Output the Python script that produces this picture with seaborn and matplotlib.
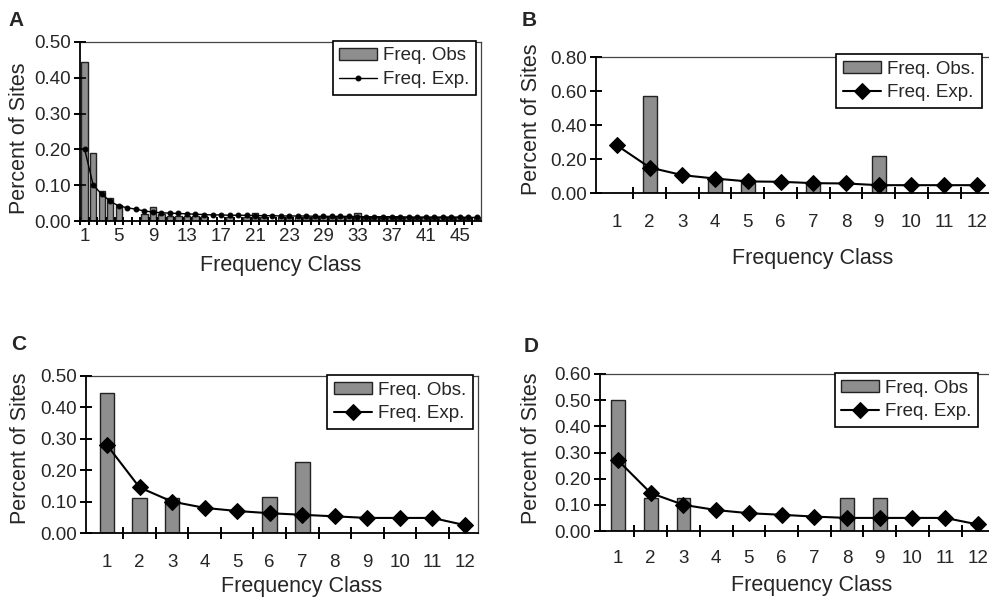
import numpy as np
import pandas as pd
import matplotlib
matplotlib.use("Agg")
import matplotlib.pyplot as plt
import seaborn as sns

# ---------------- data ----------------
classes_a = list(range(1, 48))
obs_a = [0.445, 0.19, 0.085, 0.065, 0.045, 0.0, 0.0, 0.02, 0.04, 0.02,
         0.015, 0.015, 0.015, 0.015, 0.015, 0.0, 0.0, 0.012, 0.0, 0.012,
         0.022, 0.012, 0.0, 0.012, 0.012, 0.012, 0.012, 0.012, 0.012, 0.012,
         0.012, 0.012, 0.022, 0.012, 0.012, 0.012, 0.012, 0.012, 0.012, 0.012,
         0.012, 0.012, 0.012, 0.012, 0.012, 0.012, 0.012]
exp_a = [0.20, 0.10, 0.075, 0.055, 0.042, 0.037, 0.033, 0.028, 0.025, 0.023,
         0.022, 0.021, 0.020, 0.019, 0.018, 0.017, 0.017, 0.016, 0.016, 0.016,
         0.015, 0.015, 0.015, 0.014, 0.014, 0.014, 0.014, 0.013, 0.013, 0.013,
         0.013, 0.013, 0.012, 0.012, 0.012, 0.012, 0.012, 0.012, 0.011, 0.011,
         0.011, 0.011, 0.011, 0.011, 0.011, 0.010, 0.010]
ticklabels_a = ["1", "5", "9", "13", "17", "21", "23", "29", "33", "37", "41", "45"]

classes_12 = list(range(1, 13))
obs_b = [0.0, 0.57, 0.0, 0.08, 0.06, 0.0, 0.06, 0.0, 0.22, 0.0, 0.0, 0.0]
exp_b = [0.28, 0.15, 0.105, 0.085, 0.068, 0.066, 0.058, 0.056, 0.046, 0.046, 0.046, 0.046]

obs_c = [0.445, 0.11, 0.11, 0.0, 0.0, 0.115, 0.225, 0.0, 0.0, 0.0, 0.0, 0.0]
exp_c = [0.28, 0.145, 0.10, 0.08, 0.07, 0.063, 0.058, 0.053, 0.048, 0.048, 0.048, 0.025]

obs_d = [0.50, 0.125, 0.125, 0.0, 0.0, 0.0, 0.0, 0.125, 0.125, 0.0, 0.0, 0.0]
exp_d = [0.27, 0.145, 0.10, 0.08, 0.068, 0.062, 0.055, 0.05, 0.05, 0.05, 0.05, 0.025]

# ---------------- style ----------------
sns.set_style("ticks")
plt.rcParams["font.family"] = ["Liberation Sans", "DejaVu Sans"]
plt.rcParams["axes.edgecolor"] = "black"
plt.rcParams["axes.linewidth"] = 1.0

BAR_FILL = "#8e8e8e"
BAR_EDGE = "#222222"

fig = plt.figure(figsize=(9.89, 5.98), dpi=100)

W, H = 989.0, 598.0


def make_axes(left, right, top, bottom):
    return fig.add_axes([left / W, 1 - bottom / H, (right - left) / W, (bottom - top) / H])


def panel(ax, classes, obs, exp, obs_label, exp_label, ylim, yticks, xlim,
          bar_width, marker, ms, lw, minor_ticks, major_ticks, major_labels,
          leg_anchor, xlabel_xy, ylabel_xy, xpad, show_right, tick_len):
    df = pd.DataFrame({"cls": classes, "obs": obs, "exp": exp})
    sns.barplot(data=df, x="cls", y="obs", native_scale=True, color=BAR_FILL,
                edgecolor=BAR_EDGE, linewidth=1.0, width=bar_width, saturation=1,
                errorbar=None, label=obs_label, ax=ax)
    sns.lineplot(data=df, x="cls", y="exp", color="black", marker=marker,
                 markersize=ms, markeredgecolor="black", linewidth=lw,
                 errorbar=None, label=exp_label, ax=ax)
    ax.set_xlim(*xlim)
    ax.set_ylim(*ylim)
    ax.set_yticks(yticks)
    ax.set_yticklabels([f"{v:.2f}" for v in yticks], fontsize=13.5)
    ax.set_xticks(major_ticks)
    ax.set_xticklabels(major_labels, fontsize=13.5)
    ax.set_xticks(minor_ticks, minor=True)
    ax.tick_params(axis="x", which="major", length=0, pad=xpad, bottom=True)
    ax.tick_params(axis="x", which="minor", direction="inout", length=tick_len,
                   width=1.2, color="black", bottom=True)
    ax.tick_params(axis="y", which="major", direction="inout", length=9, width=1.2,
                   color="black", pad=2, left=True)
    # tick marks on category boundaries and value ticks, drawn on top
    ax.plot(minor_ticks, [0.0] * len(minor_ticks), transform=ax.get_xaxis_transform(),
            linestyle="none", marker="|", markersize=tick_len, markeredgewidth=1.2,
            color="black", clip_on=False, zorder=6)
    ax.plot([0.0] * len(yticks), yticks, transform=ax.get_yaxis_transform(),
            linestyle="none", marker="_", markersize=9, markeredgewidth=1.2,
            color="black", clip_on=False, zorder=6)
    ax.set_xlim(*xlim)
    ax.set_ylim(*ylim)
    ax.set_xlabel("Frequency Class", fontsize=15.5, va="center")
    ax.set_ylabel("Percent of Sites", fontsize=15.5, va="center")
    ax.xaxis.set_label_coords(*xlabel_xy)
    ax.yaxis.set_label_coords(*ylabel_xy)
    ax.spines["right"].set_visible(show_right)
    for s in ["top", "right"]:
        ax.spines[s].set_linewidth(0.9)
        ax.spines[s].set_color("#444444")
    ax.spines["left"].set_linewidth(1.3)
    ax.spines["bottom"].set_linewidth(1.3)
    handles, labels = ax.get_legend_handles_labels()
    order = [labels.index(obs_label), labels.index(exp_label)]
    leg = ax.legend([handles[i] for i in order], [labels[i] for i in order],
                    loc="upper right", bbox_to_anchor=leg_anchor, fontsize=13.5,
                    frameon=True, fancybox=False, edgecolor="black", framealpha=1,
                    borderaxespad=0, handlelength=2.0, handleheight=0.6,
                    handletextpad=0.35, borderpad=0.35, labelspacing=0.35)
    leg.get_frame().set_linewidth(1.2)
    leg.set_zorder(7)


# Panel A
axA = make_axes(80, 481, 42, 221)
panel(axA, classes_a, obs_a, exp_a, "Freq. Obs", "Freq. Exp.",
      (0, 0.5), [0.0, 0.1, 0.2, 0.3, 0.4, 0.5], (0.45, 47.5),
      0.75, "o", 3.5, 1.0,
      [k + 0.5 for k in range(0, 47)], classes_a[::4], ticklabels_a,
      (0.988, 1.006), (0.5, -0.25), (-0.152, 0.464), 5, True, 6)

# Panel B
axB = make_axes(596, 989, 57, 193)
panel(axB, classes_12, obs_b, exp_b, "Freq. Obs.", "Freq. Exp.",
      (0, 0.8), [0.0, 0.2, 0.4, 0.6, 0.8], (0.36, 12.37),
      0.42, "D", 8, 1.5,
      [k + 0.5 for k in range(1, 12)], classes_12, [str(c) for c in classes_12],
      (0.982, 1.022), (0.55, -0.478), (-0.163, 0.544), 15, False, 9)

# Panel C
axC = make_axes(86, 478, 376, 533)
panel(axC, classes_12, obs_c, exp_c, "Freq. Obs.", "Freq. Exp.",
      (0, 0.5), [0.0, 0.1, 0.2, 0.3, 0.4, 0.5], (0.354, 12.4),
      0.45, "D", 8, 1.5,
      [k + 0.5 for k in range(1, 12)], classes_12, [str(c) for c in classes_12],
      (0.987, 1.006), (0.551, -0.338), (-0.166, 0.541), 15, True, 9)

# Panel D
axD = make_axes(600, 989, 374, 531)
panel(axD, classes_12, obs_d, exp_d, "Freq. Obs", "Freq. Exp.",
      (0, 0.6), [0.0, 0.1, 0.2, 0.3, 0.4, 0.5, 0.6], (0.45, 12.34),
      0.42, "D", 8, 1.5,
      [k + 0.5 for k in range(1, 12)], classes_12, [str(c) for c in classes_12],
      (0.972, 1.006), (0.545, -0.35), (-0.175, 0.529), 14, False, 9)

for letter, x, y in [("A", 16, 20), ("B", 529, 20), ("C", 19, 345), ("D", 531, 347)]:
    fig.text(x / W, 1 - y / H, letter, fontsize=15, fontweight="bold",
             ha="center", va="center")

fig.savefig("out.png", dpi=100)
